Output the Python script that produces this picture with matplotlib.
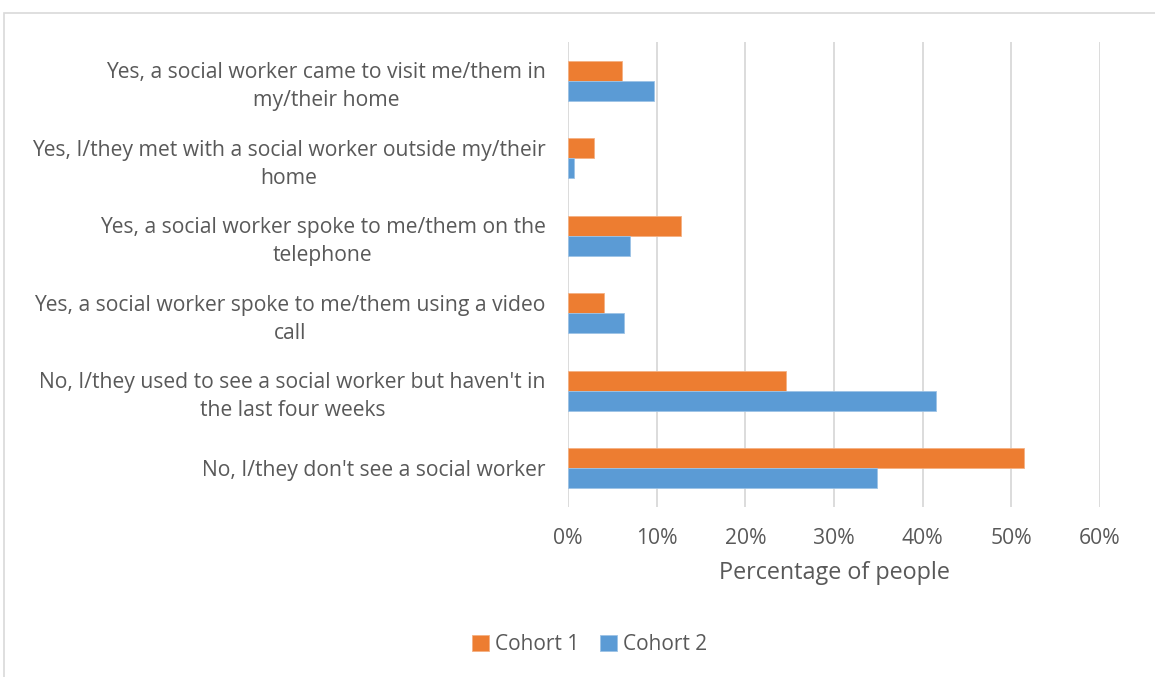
import matplotlib.pyplot as plt
import numpy as np
from matplotlib.patches import Rectangle
from matplotlib.ticker import PercentFormatter

categories = [
    "Yes, a social worker came to visit me/them in\nmy/their home",
    "Yes, I/they met with a social worker outside my/their\nhome",
    "Yes, a social worker spoke to me/them on the\ntelephone",
    "Yes, a social worker spoke to me/them using a video\ncall",
    "No, I/they used to see a social worker but haven't in\nthe last four weeks",
    "No, I/they don't see a social worker",
]
cohort1 = [6.1, 2.9, 12.8, 4.1, 24.6, 51.4]
cohort2 = [9.7, 0.7, 7.0, 6.3, 41.5, 34.8]
xticks = [0, 10, 20, 30, 40, 50, 60]

plt.rcParams['font.family'] = ['Open Sans', 'DejaVu Sans']
text_col = '#595959'

fig = plt.figure(figsize=(11.55, 6.77), dpi=100)

# light frame round the chart
fig.patches.append(Rectangle((4 / 1155, -0.1), 1.2, 1 - 13 / 677 + 0.1,
                             transform=fig.transFigure, fill=False,
                             edgecolor='#d9d9d9', linewidth=1.2))

ax = fig.add_axes([568 / 1155, 1 - 507 / 677, 532 / 1155, 465 / 677])

y = np.arange(len(categories))
h = 0.26
ax.barh(y - h / 2, cohort1, height=h, color='#ED7D31', label='Cohort 1',
        edgecolor='#f4b183', linewidth=0.6, zorder=3)
ax.barh(y + h / 2, cohort2, height=h, color='#5B9BD5', label='Cohort 2',
        edgecolor='#9dc3e6', linewidth=0.6, zorder=3)

ax.set_ylim(len(categories) - 0.5, -0.5)
ax.set_xlim(0, 60)
ax.set_xticks(xticks)
ax.xaxis.set_major_formatter(PercentFormatter(decimals=0))
ax.set_yticks(y)
ax.set_yticklabels(categories, multialignment='center', linespacing=1.45)

ax.grid(axis='x', color='#d9d9d9', linewidth=1.3, zorder=0)
for s in ax.spines.values():
    s.set_visible(False)
ax.tick_params(axis='both', length=0, labelsize=15.2, labelcolor=text_col)
ax.tick_params(axis='y', pad=16)
ax.tick_params(axis='x', pad=15)

ax.set_xlabel('Percentage of people', fontsize=16.8, color=text_col, labelpad=9)

fig.legend(loc='center', bbox_to_anchor=(590 / 1155, 1 - 645 / 677), ncol=2,
           frameon=False, fontsize=15, labelcolor=text_col, handlelength=0.8,
           handleheight=0.8, handletextpad=0.3, columnspacing=1.0)

plt.savefig('out.png')
